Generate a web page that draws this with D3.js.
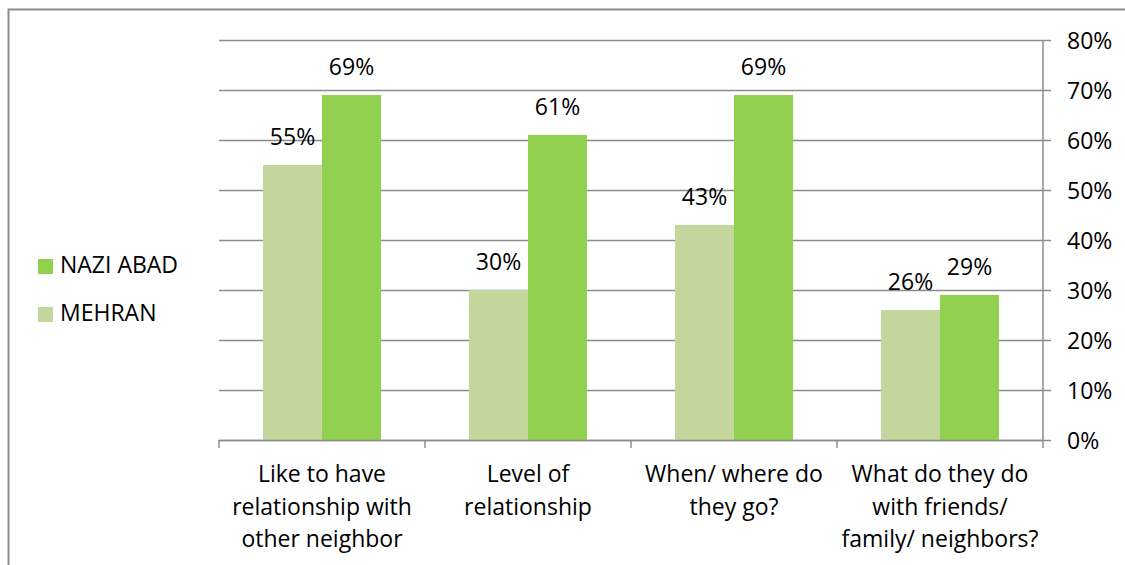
<!DOCTYPE html>
<html>
<head>
<meta charset="utf-8">
<script src="https://cdn.jsdelivr.net/npm/d3@7"></script>
<style>
  html, body { margin: 0; padding: 0; background: #fff; }
  svg text { font-family: "Open Sans", "Noto Sans", sans-serif; fill: #000; }
</style>
</head>
<body>
<svg id="chart" width="1125" height="565"></svg>
<script>
// Survey results: share of respondents per question, by neighbourhood
const categories = [
  ["Like to have", "relationship with", "other neighbor"],
  ["Level of", "relationship"],
  ["When/ where do", "they go?"],
  ["What do they do", "with friends/", "family/ neighbors?"]
];
const seriesNames = ["MEHRAN", "NAZI ABAD"];
const mehran   = [55, 30, 43, 26];
const naziAbad = [69, 61, 69, 29];
const yTicks   = [0, 10, 20, 30, 40, 50, 60, 70, 80];
const colors   = ["#c3d69b", "#92d050"];

const svg = d3.select("#chart");
const W = 1125, H = 565;
const plot = { left: 219, right: 1043, top: 40, bottom: 440 };
const fontSize = 23;

// outer frame (left and top edges visible)
svg.append("path")
  .attr("d", `M8.5,${H} V9.5 H${W}`)
  .attr("fill", "none")
  .attr("stroke", "#8c8c8c")
  .attr("stroke-width", 2);

const x = d3.scaleBand()
  .domain(d3.range(categories.length))
  .range([plot.left, plot.right])
  .padding(0);

const inner = d3.scaleBand()
  .domain(seriesNames)
  .range([0, x.bandwidth()])
  .paddingInner(0)
  .paddingOuter(0.746);

const y = d3.scaleLinear().domain([0, 80]).range([plot.bottom, plot.top]);

// horizontal gridlines
svg.append("g")
  .selectAll("line")
  .data(yTicks)
  .join("line")
  .attr("x1", plot.left)
  .attr("x2", plot.right)
  .attr("y1", d => Math.round(y(d)) + 0.5)
  .attr("y2", d => Math.round(y(d)) + 0.5)
  .attr("stroke", "#8c8c8c")
  .attr("stroke-width", 1.5);

// bars
const data = [mehran, naziAbad];
const groups = svg.append("g");
seriesNames.forEach((name, si) => {
  groups.append("g")
    .selectAll("rect")
    .data(data[si])
    .join("rect")
    .attr("x", (d, i) => x(i) + inner(name))
    .attr("width", inner.bandwidth())
    .attr("y", d => y(d))
    .attr("height", d => plot.bottom - y(d))
    .attr("fill", colors[si]);
});

// value labels above the bars
seriesNames.forEach((name, si) => {
  svg.append("g")
    .selectAll("text")
    .data(data[si])
    .join("text")
    .attr("x", (d, i) => x(i) + inner(name) + inner.bandwidth() / 2)
    .attr("y", d => y(d) - 20)
    .attr("text-anchor", "middle")
    .attr("font-size", fontSize)
    .text(d => d + "%");
});

// right value axis
const yAxis = d3.axisRight(y)
  .tickValues(yTicks)
  .tickSize(8)
  .tickPadding(16)
  .tickFormat(d => d + "%");
const yg = svg.append("g")
  .attr("transform", `translate(${plot.right},0)`)
  .call(yAxis);
yg.select(".domain").attr("stroke", "#8c8c8c").attr("stroke-width", 1.5)
  .attr("d", `M0,${plot.top}V${plot.bottom}`);
yg.selectAll(".tick line").attr("stroke", "#8c8c8c").attr("stroke-width", 1.5);
yg.selectAll(".tick text")
  .attr("font-size", fontSize)
  .attr("font-family", "Open Sans")
  .attr("fill", "#000")
  .attr("dy", "0.35em");

// bottom category axis with boundary ticks
const xg = svg.append("g");
xg.append("line")
  .attr("x1", plot.left).attr("x2", plot.right)
  .attr("y1", plot.bottom + 0.5).attr("y2", plot.bottom + 0.5)
  .attr("stroke", "#8c8c8c").attr("stroke-width", 1.5);
const bounds = d3.range(categories.length + 1).map(i => i < categories.length ? x(i) : plot.right);
xg.selectAll("line.tk")
  .data(bounds)
  .join("line")
  .attr("class", "tk")
  .attr("x1", d => d).attr("x2", d => d)
  .attr("y1", plot.bottom).attr("y2", plot.bottom + 8)
  .attr("stroke", "#8c8c8c").attr("stroke-width", 1.5);

// multi-line category labels
const lab = xg.selectAll("text.cat")
  .data(categories)
  .join("text")
  .attr("class", "cat")
  .attr("text-anchor", "middle")
  .attr("font-size", fontSize)
  .attr("transform", (d, i) => `translate(${x(i) + x.bandwidth() / 2},482)`);
lab.selectAll("tspan")
  .data(d => d)
  .join("tspan")
  .attr("x", 0)
  .attr("y", (d, j) => j * 32.5)
  .text(d => d);

// legend (NAZI ABAD listed first)
const legendItems = [
  { name: "NAZI ABAD", color: colors[1], y: 273 },
  { name: "MEHRAN", color: colors[0], y: 321 }
];
const lg = svg.append("g").selectAll("g")
  .data(legendItems)
  .join("g");
lg.append("rect")
  .attr("x", 38).attr("y", d => d.y - 14)
  .attr("width", 15).attr("height", 15)
  .attr("fill", d => d.color);
lg.append("text")
  .attr("x", 60).attr("y", d => d.y)
  .attr("font-size", fontSize)
  .text(d => d.name);
</script>
</body>
</html>
